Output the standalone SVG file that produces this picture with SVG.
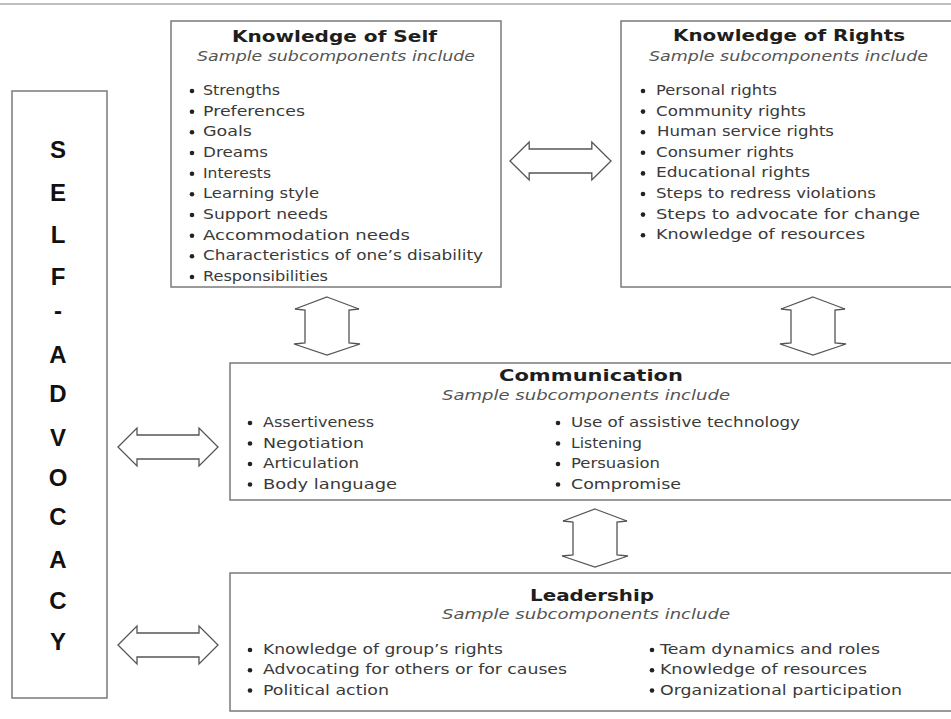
<svg xmlns="http://www.w3.org/2000/svg" width="951" height="719" viewBox="0 0 951 719">
<style>
.box{fill:#fff;stroke:#7a7a7a;stroke-width:1.5}
.title{font-family:"DejaVu Sans",sans-serif;font-weight:bold;font-size:16px;fill:#1e1e1e}
.sub{font-family:"DejaVu Sans",sans-serif;font-style:italic;font-size:14px;fill:#555}
.item{font-family:"DejaVu Sans",sans-serif;font-size:13.5px;fill:#3a3a3a}
.big{font-family:"Liberation Sans",Arial,sans-serif;font-weight:bold;font-size:24px;fill:#111;text-anchor:middle}
.bul{fill:#222}
.arr{fill:#fff;stroke:#555;stroke-width:1.3;stroke-linejoin:miter}
</style>
<defs>
<path id="harr" d="M0,0 L19,-19 L19,-12 L81,-12 L81,-19 L100,0 L81,19 L81,12 L19,12 L19,19 Z"/>
<path id="varr" d="M0,0 L32,12 L22,13 L22,46 L33,47 L0,58 L-33,47 L-22,46 L-22,13 L-32,12 Z"/>
</defs>
<rect width="951" height="719" fill="#fff"/>
<line x1="0" y1="4" x2="951" y2="4" stroke="#aaa" stroke-width="1.5"/>

<g id="self-advocacy">
<rect class="box" x="12" y="91" width="95" height="607" stroke="#666"/>
<text class="big" x="58" y="157.5">S</text>
<text class="big" x="58" y="200.5">E</text>
<text class="big" x="58" y="243">L</text>
<text class="big" x="58" y="284.5">F</text>
<text class="big" x="58" y="319">-</text>
<text class="big" x="58" y="362.5">A</text>
<text class="big" x="58" y="401.5">D</text>
<text class="big" x="58" y="445.5">V</text>
<text class="big" x="58" y="485.5">O</text>
<text class="big" x="58" y="525">C</text>
<text class="big" x="58" y="567.5">A</text>
<text class="big" x="58" y="608.5">C</text>
<text class="big" x="58" y="649.5">Y</text>
</g>

<g id="knowledge-of-self">
<rect class="box" x="171" y="21" width="330" height="266"/>
<text class="title" x="232" y="42" textLength="205" lengthAdjust="spacingAndGlyphs">Knowledge of Self</text>
<text class="sub" x="197" y="61" textLength="278" lengthAdjust="spacingAndGlyphs">Sample subcomponents include</text>
<g class="bul">
<circle cx="192" cy="91" r="2.3"/><circle cx="192" cy="111.7" r="2.3"/><circle cx="192" cy="132.3" r="2.3"/><circle cx="192" cy="153" r="2.3"/><circle cx="192" cy="173.7" r="2.3"/><circle cx="192" cy="194.3" r="2.3"/><circle cx="192" cy="215" r="2.3"/><circle cx="192" cy="235.7" r="2.3"/><circle cx="192" cy="256.3" r="2.3"/><circle cx="192" cy="277" r="2.3"/>
</g>
<text class="item" x="203" y="95" textLength="77" lengthAdjust="spacingAndGlyphs">Strengths</text>
<text class="item" x="203" y="115.7" textLength="102" lengthAdjust="spacingAndGlyphs">Preferences</text>
<text class="item" x="203" y="136.3" textLength="49" lengthAdjust="spacingAndGlyphs">Goals</text>
<text class="item" x="203" y="157" textLength="65" lengthAdjust="spacingAndGlyphs">Dreams</text>
<text class="item" x="203" y="177.7" textLength="68" lengthAdjust="spacingAndGlyphs">Interests</text>
<text class="item" x="203" y="198.3" textLength="116" lengthAdjust="spacingAndGlyphs">Learning style</text>
<text class="item" x="203" y="219" textLength="125" lengthAdjust="spacingAndGlyphs">Support needs</text>
<text class="item" x="203" y="239.7" textLength="207" lengthAdjust="spacingAndGlyphs">Accommodation needs</text>
<text class="item" x="203" y="260.3" textLength="280" lengthAdjust="spacingAndGlyphs">Characteristics of one’s disability</text>
<text class="item" x="203" y="281" textLength="125" lengthAdjust="spacingAndGlyphs">Responsibilities</text>
</g>

<g id="knowledge-of-rights">
<rect class="box" x="621" y="21" width="332" height="266"/>
<text class="title" x="673" y="41" textLength="232" lengthAdjust="spacingAndGlyphs">Knowledge of Rights</text>
<text class="sub" x="649" y="61" textLength="279" lengthAdjust="spacingAndGlyphs">Sample subcomponents include</text>
<g class="bul">
<circle cx="643" cy="91" r="2.3"/><circle cx="643" cy="111.6" r="2.3"/><circle cx="643" cy="132.2" r="2.3"/><circle cx="643" cy="152.8" r="2.3"/><circle cx="643" cy="173.4" r="2.3"/><circle cx="643" cy="194" r="2.3"/><circle cx="643" cy="214.6" r="2.3"/><circle cx="643" cy="235.2" r="2.3"/>
</g>
<text class="item" x="656" y="95" textLength="121" lengthAdjust="spacingAndGlyphs">Personal rights</text>
<text class="item" x="656" y="115.6" textLength="150" lengthAdjust="spacingAndGlyphs">Community rights</text>
<text class="item" x="657" y="136.2" textLength="177" lengthAdjust="spacingAndGlyphs">Human service rights</text>
<text class="item" x="656" y="156.8" textLength="138" lengthAdjust="spacingAndGlyphs">Consumer rights</text>
<text class="item" x="656" y="177.4" textLength="154" lengthAdjust="spacingAndGlyphs">Educational rights</text>
<text class="item" x="656" y="198" textLength="220" lengthAdjust="spacingAndGlyphs">Steps to redress violations</text>
<text class="item" x="656" y="218.6" textLength="264" lengthAdjust="spacingAndGlyphs">Steps to advocate for change</text>
<text class="item" x="656" y="239.2" textLength="209" lengthAdjust="spacingAndGlyphs">Knowledge of resources</text>
</g>

<g id="communication">
<rect class="box" x="230" y="363" width="723" height="137"/>
<text class="title" x="499" y="381" textLength="184" lengthAdjust="spacingAndGlyphs">Communication</text>
<text class="sub" x="442" y="400" textLength="288" lengthAdjust="spacingAndGlyphs">Sample subcomponents include</text>
<g class="bul">
<circle cx="250" cy="423" r="2.3"/><circle cx="250" cy="443.5" r="2.3"/><circle cx="250" cy="464" r="2.3"/><circle cx="250" cy="484.5" r="2.3"/>
<circle cx="558" cy="423" r="2.3"/><circle cx="558" cy="443.5" r="2.3"/><circle cx="558" cy="464" r="2.3"/><circle cx="558" cy="484.5" r="2.3"/>
</g>
<text class="item" x="263" y="427" textLength="111" lengthAdjust="spacingAndGlyphs">Assertiveness</text>
<text class="item" x="263" y="447.5" textLength="101" lengthAdjust="spacingAndGlyphs">Negotiation</text>
<text class="item" x="263" y="468" textLength="96" lengthAdjust="spacingAndGlyphs">Articulation</text>
<text class="item" x="263" y="488.5" textLength="134" lengthAdjust="spacingAndGlyphs">Body language</text>
<text class="item" x="571" y="427" textLength="229" lengthAdjust="spacingAndGlyphs">Use of assistive technology</text>
<text class="item" x="571" y="447.5" textLength="71" lengthAdjust="spacingAndGlyphs">Listening</text>
<text class="item" x="571" y="468" textLength="89" lengthAdjust="spacingAndGlyphs">Persuasion</text>
<text class="item" x="571" y="488.5" textLength="110" lengthAdjust="spacingAndGlyphs">Compromise</text>
</g>

<g id="leadership">
<rect class="box" x="230" y="573" width="723" height="138"/>
<text class="title" x="530" y="601" textLength="124" lengthAdjust="spacingAndGlyphs">Leadership</text>
<text class="sub" x="442" y="619" textLength="288" lengthAdjust="spacingAndGlyphs">Sample subcomponents include</text>
<g class="bul">
<circle cx="250" cy="650" r="2.3"/><circle cx="250" cy="670.3" r="2.3"/><circle cx="250" cy="690.5" r="2.3"/>
<circle cx="652" cy="650" r="2.3"/><circle cx="652" cy="670.3" r="2.3"/><circle cx="652" cy="690.5" r="2.3"/>
</g>
<text class="item" x="263" y="654" textLength="240" lengthAdjust="spacingAndGlyphs">Knowledge of group’s rights</text>
<text class="item" x="263" y="674.3" textLength="304" lengthAdjust="spacingAndGlyphs">Advocating for others or for causes</text>
<text class="item" x="263" y="694.5" textLength="126" lengthAdjust="spacingAndGlyphs">Political action</text>
<text class="item" x="660" y="654" textLength="220" lengthAdjust="spacingAndGlyphs">Team dynamics and roles</text>
<text class="item" x="660" y="674.3" textLength="207" lengthAdjust="spacingAndGlyphs">Knowledge of resources</text>
<text class="item" x="660" y="694.5" textLength="242" lengthAdjust="spacingAndGlyphs">Organizational participation</text>
</g>

<g id="connectors">
<use href="#harr" class="arr" transform="translate(510,161) scale(1.01,1)"/>
<use href="#harr" class="arr" transform="translate(118,447)"/>
<use href="#harr" class="arr" transform="translate(118,645)"/>
<use href="#varr" class="arr" transform="translate(327,297)"/>
<use href="#varr" class="arr" transform="translate(813,297)"/>
<use href="#varr" class="arr" transform="translate(595,509)"/>
</g>
</svg>
